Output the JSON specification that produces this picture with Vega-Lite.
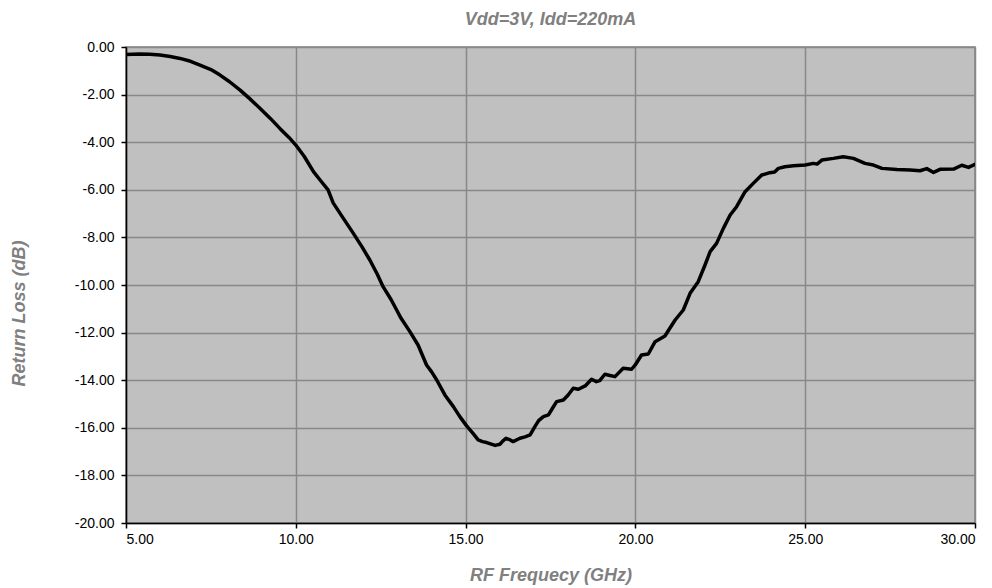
{
  "$schema": "https://vega.github.io/schema/vega-lite/v6.json",
  "width": 849,
  "height": 476,
  "autosize": {"type": "none"},
  "padding": {"left": 126, "top": 47, "right": 17, "bottom": 65},
  "background": "white",
  "title": {
    "text": "Vdd=3V, Idd=220mA",
    "font": "Liberation Sans",
    "fontSize": 18,
    "fontStyle": "italic",
    "fontWeight": "bold",
    "color": "#808080",
    "anchor": "middle",
    "offset": 11
  },
  "config": {
    "view": {"fill": "#C0C0C0", "stroke": "#808080", "strokeWidth": 1.5}
  },
  "data": {
    "values": [
      {"f": 5.0, "rl": -0.32}, {"f": 5.2, "rl": -0.30}, {"f": 5.41, "rl": -0.29}, {"f": 5.7, "rl": -0.30},
      {"f": 6.0, "rl": -0.34}, {"f": 6.3, "rl": -0.40}, {"f": 6.59, "rl": -0.48}, {"f": 6.9, "rl": -0.60},
      {"f": 7.18, "rl": -0.76}, {"f": 7.5, "rl": -0.95}, {"f": 7.77, "rl": -1.18}, {"f": 8.05, "rl": -1.46},
      {"f": 8.36, "rl": -1.81}, {"f": 8.65, "rl": -2.18}, {"f": 8.95, "rl": -2.58}, {"f": 9.25, "rl": -3.0},
      {"f": 9.53, "rl": -3.42}, {"f": 9.8, "rl": -3.8}, {"f": 10.0, "rl": -4.12}, {"f": 10.25, "rl": -4.6},
      {"f": 10.52, "rl": -5.24}, {"f": 10.75, "rl": -5.65}, {"f": 10.95, "rl": -6.0}, {"f": 11.1, "rl": -6.55},
      {"f": 11.4, "rl": -7.2}, {"f": 11.68, "rl": -7.8}, {"f": 11.95, "rl": -8.4}, {"f": 12.18, "rl": -8.95},
      {"f": 12.4, "rl": -9.55}, {"f": 12.57, "rl": -10.07}, {"f": 12.8, "rl": -10.6}, {"f": 12.97, "rl": -11.05},
      {"f": 13.1, "rl": -11.4}, {"f": 13.36, "rl": -11.96}, {"f": 13.6, "rl": -12.52}, {"f": 13.85, "rl": -13.36},
      {"f": 14.0, "rl": -13.65}, {"f": 14.15, "rl": -13.99}, {"f": 14.39, "rl": -14.62}, {"f": 14.64, "rl": -15.11},
      {"f": 14.83, "rl": -15.53}, {"f": 15.03, "rl": -15.92}, {"f": 15.2, "rl": -16.2}, {"f": 15.37, "rl": -16.51},
      {"f": 15.5, "rl": -16.58}, {"f": 15.62, "rl": -16.62}, {"f": 15.87, "rl": -16.74}, {"f": 16.01, "rl": -16.69},
      {"f": 16.1, "rl": -16.55}, {"f": 16.19, "rl": -16.44}, {"f": 16.3, "rl": -16.5}, {"f": 16.4, "rl": -16.58},
      {"f": 16.6, "rl": -16.44}, {"f": 16.75, "rl": -16.38}, {"f": 16.9, "rl": -16.3}, {"f": 17.04, "rl": -15.95},
      {"f": 17.15, "rl": -15.7}, {"f": 17.29, "rl": -15.53}, {"f": 17.44, "rl": -15.46}, {"f": 17.55, "rl": -15.2},
      {"f": 17.68, "rl": -14.9}, {"f": 17.88, "rl": -14.83}, {"f": 18.02, "rl": -14.62}, {"f": 18.17, "rl": -14.34},
      {"f": 18.32, "rl": -14.38}, {"f": 18.52, "rl": -14.24}, {"f": 18.71, "rl": -13.96}, {"f": 18.85, "rl": -14.06},
      {"f": 18.95, "rl": -14.02}, {"f": 19.1, "rl": -13.75}, {"f": 19.25, "rl": -13.8}, {"f": 19.4, "rl": -13.85},
      {"f": 19.64, "rl": -13.5}, {"f": 19.89, "rl": -13.54}, {"f": 20.0, "rl": -13.35}, {"f": 20.18, "rl": -12.94},
      {"f": 20.38, "rl": -12.9}, {"f": 20.58, "rl": -12.38}, {"f": 20.87, "rl": -12.14}, {"f": 21.0, "rl": -11.85},
      {"f": 21.17, "rl": -11.47}, {"f": 21.41, "rl": -11.05}, {"f": 21.61, "rl": -10.35}, {"f": 21.85, "rl": -9.86},
      {"f": 22.05, "rl": -9.16}, {"f": 22.2, "rl": -8.6}, {"f": 22.39, "rl": -8.25}, {"f": 22.59, "rl": -7.62},
      {"f": 22.79, "rl": -7.06}, {"f": 22.98, "rl": -6.71}, {"f": 23.23, "rl": -6.08}, {"f": 23.47, "rl": -5.73},
      {"f": 23.72, "rl": -5.38}, {"f": 23.96, "rl": -5.28}, {"f": 24.1, "rl": -5.25}, {"f": 24.21, "rl": -5.1},
      {"f": 24.4, "rl": -5.03}, {"f": 24.65, "rl": -4.99}, {"f": 25.0, "rl": -4.96}, {"f": 25.24, "rl": -4.89},
      {"f": 25.35, "rl": -4.92}, {"f": 25.49, "rl": -4.75}, {"f": 25.83, "rl": -4.68}, {"f": 26.12, "rl": -4.61},
      {"f": 26.42, "rl": -4.68}, {"f": 26.76, "rl": -4.89}, {"f": 27.01, "rl": -4.96}, {"f": 27.26, "rl": -5.1},
      {"f": 27.7, "rl": -5.15}, {"f": 28.09, "rl": -5.17}, {"f": 28.38, "rl": -5.2}, {"f": 28.58, "rl": -5.11},
      {"f": 28.78, "rl": -5.27}, {"f": 28.97, "rl": -5.14}, {"f": 29.37, "rl": -5.13}, {"f": 29.61, "rl": -4.97},
      {"f": 29.81, "rl": -5.06}, {"f": 30.0, "rl": -4.93}
    ]
  },
  "mark": {"type": "line", "color": "black", "strokeWidth": 3.5, "strokeJoin": "round", "strokeCap": "round", "clip": true},
  "encoding": {
    "x": {
      "field": "f",
      "type": "quantitative",
      "scale": {"domain": [5, 30], "nice": false, "zero": false},
      "axis": {
        "title": "RF Frequecy (GHz)",
        "values": [5, 10, 15, 20, 25, 30],
        "format": ".2f",
        "grid": true,
        "gridColor": "#888888",
        "gridWidth": 1.5,
        "gridOpacity": 1,
        "domainColor": "black",
        "domainWidth": 1.5,
        "tickColor": "black",
        "tickSize": 5,
        "tickWidth": 1.5,
        "labelFont": "Liberation Sans",
        "labelFontSize": 14,
        "labelColor": "black",
        "labelPadding": 4,
        "titleFont": "Liberation Sans",
        "titleFontSize": 18,
        "titleFontStyle": "italic",
        "titleFontWeight": "bold",
        "titleColor": "#808080",
        "titleBaseline": "middle",
        "titleY": 52
      }
    },
    "y": {
      "field": "rl",
      "type": "quantitative",
      "scale": {"domain": [-20, 0], "nice": false, "zero": false},
      "axis": {
        "title": "Return Loss (dB)",
        "values": [-20, -18, -16, -14, -12, -10, -8, -6, -4, -2, 0],
        "labelExpr": "replace(format(datum.value, '.2f'), '\u2212', '-')",
        "grid": true,
        "gridColor": "#888888",
        "gridWidth": 1.5,
        "gridOpacity": 1,
        "domainColor": "black",
        "domainWidth": 1.5,
        "tickColor": "black",
        "tickSize": 5,
        "tickWidth": 1.5,
        "labelFont": "Liberation Sans",
        "labelFontSize": 14,
        "labelColor": "black",
        "labelPadding": 7,
        "titleFont": "Liberation Sans",
        "titleFontSize": 18,
        "titleFontStyle": "italic",
        "titleFontWeight": "bold",
        "titleColor": "#808080",
        "titleBaseline": "bottom",
        "titleX": -98,
        "titleY": 266
      }
    }
  }
}
